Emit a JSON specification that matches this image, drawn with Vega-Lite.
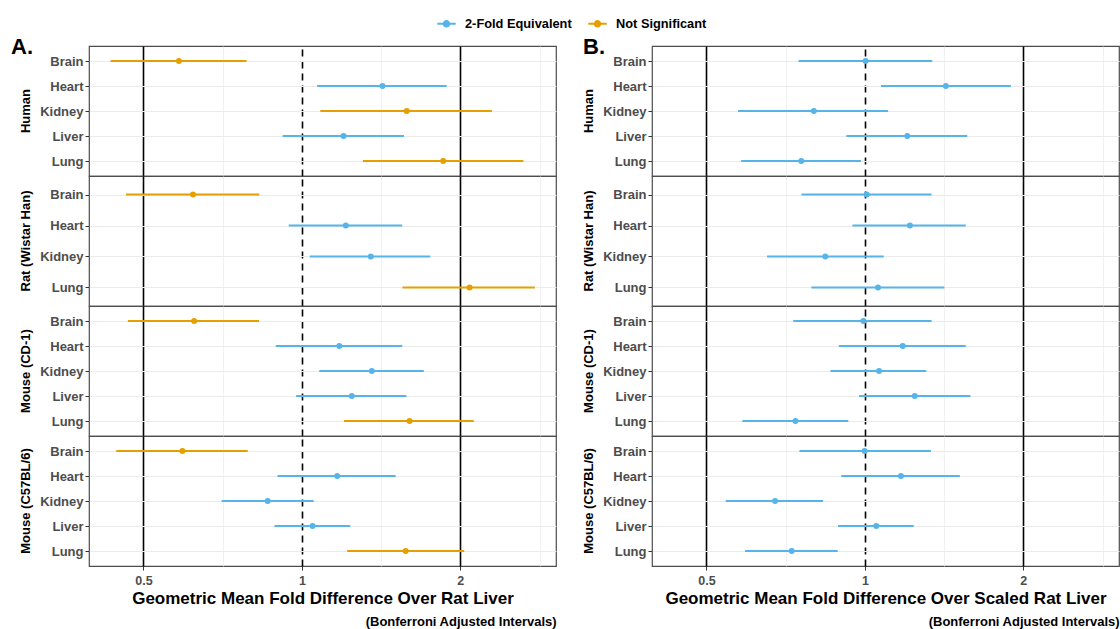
{
  "$schema": "https://vega.github.io/schema/vega-lite/v6.json",
  "padding": {"left": 10, "top": 13, "right": 0, "bottom": 0},
  "background": "white",
  "config": {
    "font": "Liberation Sans",
    "view": {"stroke": "#4d4d4d", "strokeWidth": 1.2},
    "title": {"fontSize": 22, "fontWeight": "bold", "color": "black", "anchor": "start"},
    "header": {"labelFont": "Liberation Sans", "labelFontSize": 13, "labelFontWeight": "bold", "labelColor": "black", "labelAngle": -90, "labelPadding": 50},
    "legend": {"padding": 0}
  },
  "datasets": {
    "A": [
      {"species": "Human", "tissue": "Brain", "est": 0.584, "lo": 0.433, "hi": 0.785, "sig": "Not Significant"},
      {"species": "Human", "tissue": "Heart", "est": 1.423, "lo": 1.069, "hi": 1.884, "sig": "2-Fold Equivalent"},
      {"species": "Human", "tissue": "Kidney", "est": 1.582, "lo": 1.084, "hi": 2.297, "sig": "Not Significant"},
      {"species": "Human", "tissue": "Liver", "est": 1.200, "lo": 0.919, "hi": 1.563, "sig": "2-Fold Equivalent"},
      {"species": "Human", "tissue": "Lung", "est": 1.856, "lo": 1.306, "hi": 2.636, "sig": "Not Significant"},
      {"species": "Rat (Wistar Han)", "tissue": "Brain", "est": 0.621, "lo": 0.463, "hi": 0.830, "sig": "Not Significant"},
      {"species": "Rat (Wistar Han)", "tissue": "Heart", "est": 1.212, "lo": 0.944, "hi": 1.551, "sig": "2-Fold Equivalent"},
      {"species": "Rat (Wistar Han)", "tissue": "Kidney", "est": 1.352, "lo": 1.035, "hi": 1.754, "sig": "2-Fold Equivalent"},
      {"species": "Rat (Wistar Han)", "tissue": "Lung", "est": 2.083, "lo": 1.553, "hi": 2.771, "sig": "Not Significant"},
      {"species": "Mouse (CD-1)", "tissue": "Brain", "est": 0.624, "lo": 0.467, "hi": 0.829, "sig": "Not Significant"},
      {"species": "Mouse (CD-1)", "tissue": "Heart", "est": 1.178, "lo": 0.892, "hi": 1.551, "sig": "2-Fold Equivalent"},
      {"species": "Mouse (CD-1)", "tissue": "Kidney", "est": 1.358, "lo": 1.079, "hi": 1.705, "sig": "2-Fold Equivalent"},
      {"species": "Mouse (CD-1)", "tissue": "Liver", "est": 1.244, "lo": 0.975, "hi": 1.580, "sig": "2-Fold Equivalent"},
      {"species": "Mouse (CD-1)", "tissue": "Lung", "est": 1.602, "lo": 1.202, "hi": 2.122, "sig": "Not Significant"},
      {"species": "Mouse (C57BL/6)", "tissue": "Brain", "est": 0.593, "lo": 0.444, "hi": 0.789, "sig": "Not Significant"},
      {"species": "Mouse (C57BL/6)", "tissue": "Heart", "est": 1.167, "lo": 0.899, "hi": 1.507, "sig": "2-Fold Equivalent"},
      {"species": "Mouse (C57BL/6)", "tissue": "Kidney", "est": 0.861, "lo": 0.704, "hi": 1.053, "sig": "2-Fold Equivalent"},
      {"species": "Mouse (C57BL/6)", "tissue": "Liver", "est": 1.048, "lo": 0.887, "hi": 1.236, "sig": "2-Fold Equivalent"},
      {"species": "Mouse (C57BL/6)", "tissue": "Lung", "est": 1.575, "lo": 1.219, "hi": 2.035, "sig": "Not Significant"}
    ],
    "B": [
      {"species": "Human", "tissue": "Brain", "est": 1.003, "lo": 0.748, "hi": 1.343, "sig": "2-Fold Equivalent"},
      {"species": "Human", "tissue": "Heart", "est": 1.425, "lo": 1.073, "hi": 1.894, "sig": "2-Fold Equivalent"},
      {"species": "Human", "tissue": "Kidney", "est": 0.800, "lo": 0.574, "hi": 1.107, "sig": "2-Fold Equivalent"},
      {"species": "Human", "tissue": "Liver", "est": 1.204, "lo": 0.922, "hi": 1.565, "sig": "2-Fold Equivalent"},
      {"species": "Human", "tissue": "Lung", "est": 0.757, "lo": 0.582, "hi": 0.983, "sig": "2-Fold Equivalent"},
      {"species": "Rat (Wistar Han)", "tissue": "Brain", "est": 1.008, "lo": 0.758, "hi": 1.339, "sig": "2-Fold Equivalent"},
      {"species": "Rat (Wistar Han)", "tissue": "Heart", "est": 1.218, "lo": 0.947, "hi": 1.555, "sig": "2-Fold Equivalent"},
      {"species": "Rat (Wistar Han)", "tissue": "Kidney", "est": 0.841, "lo": 0.652, "hi": 1.086, "sig": "2-Fold Equivalent"},
      {"species": "Rat (Wistar Han)", "tissue": "Lung", "est": 1.059, "lo": 0.791, "hi": 1.416, "sig": "2-Fold Equivalent"},
      {"species": "Mouse (CD-1)", "tissue": "Brain", "est": 0.994, "lo": 0.731, "hi": 1.339, "sig": "2-Fold Equivalent"},
      {"species": "Mouse (CD-1)", "tissue": "Heart", "est": 1.180, "lo": 0.892, "hi": 1.555, "sig": "2-Fold Equivalent"},
      {"species": "Mouse (CD-1)", "tissue": "Kidney", "est": 1.064, "lo": 0.860, "hi": 1.308, "sig": "2-Fold Equivalent"},
      {"species": "Mouse (CD-1)", "tissue": "Liver", "est": 1.244, "lo": 0.975, "hi": 1.587, "sig": "2-Fold Equivalent"},
      {"species": "Mouse (CD-1)", "tissue": "Lung", "est": 0.738, "lo": 0.585, "hi": 0.930, "sig": "2-Fold Equivalent"},
      {"species": "Mouse (C57BL/6)", "tissue": "Brain", "est": 0.999, "lo": 0.751, "hi": 1.335, "sig": "2-Fold Equivalent"},
      {"species": "Mouse (C57BL/6)", "tissue": "Heart", "est": 1.171, "lo": 0.902, "hi": 1.515, "sig": "2-Fold Equivalent"},
      {"species": "Mouse (C57BL/6)", "tissue": "Kidney", "est": 0.675, "lo": 0.544, "hi": 0.833, "sig": "2-Fold Equivalent"},
      {"species": "Mouse (C57BL/6)", "tissue": "Liver", "est": 1.051, "lo": 0.889, "hi": 1.238, "sig": "2-Fold Equivalent"},
      {"species": "Mouse (C57BL/6)", "tissue": "Lung", "est": 0.726, "lo": 0.592, "hi": 0.888, "sig": "2-Fold Equivalent"}
    ]
  },
  "spacing": 25,
  "hconcat": [
    {
      "title": {"text": "A.", "offset": -14, "dx": -9},
      "vconcat": [
        {
          "data": {"name": "A"},
          "title": {"text": "(Bonferroni Adjusted Intervals)", "orient": "bottom", "anchor": "end", "fontSize": 13, "fontWeight": "bold", "color": "black", "offset": 9},
          "facet": {"row": {"field": "species", "type": "nominal", "sort": ["Human", "Rat (Wistar Han)", "Mouse (CD-1)", "Mouse (C57BL/6)"], "header": {"title": null}}},
          "spacing": {"row": 0},
          "bounds": "flush",
          "resolve": {"scale": {"y": "independent"}},
          "spec": {
            "width": 467,
            "height": 130,
            "encoding": {
              "y": {"field": "tissue", "type": "nominal", "sort": ["Brain", "Heart", "Kidney", "Liver", "Lung"], "scale": {"type": "point", "padding": 0.6},
                "axis": {"title": null, "grid": true, "gridColor": "#EBEBEB", "gridWidth": 1, "domain": false, "tickColor": "#333333", "tickSize": 4, "labelFontSize": 13, "labelFontWeight": "bold", "labelColor": "#4D4D4D", "labelPadding": 2}}
            },
            "layer": [
              {
                "mark": {"type": "rule", "strokeWidth": 2},
                "encoding": {
                  "x": {"field": "lo", "type": "quantitative", "scale": {"type": "log", "base": 2, "domain": [0.394, 3.04], "nice": false},
                    "axis": {"title": "Geometric Mean Fold Difference Over Rat Liver", "values": [0.5, 0.7071, 1, 1.4142, 2, 2.8284],
                      "labelExpr": "datum.value == 0.5 ? '0.5' : datum.value == 1 ? '1' : datum.value == 2 ? '2' : ''",
                      "grid": true,
                      "gridColor": {"condition": {"test": "datum.value == 0.5 || datum.value == 1 || datum.value == 2", "value": "#000000"}, "value": "#EBEBEB"},
                      "gridWidth": {"condition": {"test": "datum.value == 0.5 || datum.value == 1 || datum.value == 2", "value": 1.6}, "value": 0.7},
                      "gridDash": {"condition": {"test": "datum.value == 1", "value": [7, 5]}, "value": []},
                      "tickColor": {"condition": {"test": "datum.value == 0.5 || datum.value == 1 || datum.value == 2", "value": "#333333"}, "value": "transparent"},
                      "tickSize": 4, "domain": false,
                      "labelFontSize": 12.5, "labelFontWeight": "bold", "labelColor": "#4D4D4D", "labelPadding": 4,
                      "titleFontSize": 17, "titleFontWeight": "bold", "titleColor": "black", "titlePadding": 4}},
                  "x2": {"field": "hi"},
                  "color": {"field": "sig", "type": "nominal", "scale": {"domain": ["2-Fold Equivalent", "Not Significant"], "range": ["#56B4E9", "#E69F00"]},
                    "legend": {"title": null, "orient": "none", "direction": "horizontal", "legendX": 347, "legendY": -33,
                      "labelFontSize": 12.8, "labelFontWeight": "bold", "labelColor": "black", "labelOffset": 8, "columnPadding": 12,
                      "symbolType": "M-1,0L1,0M-0.3,0A0.3,0.3,0,1,1,0.3,0A0.3,0.3,0,1,1,-0.3,0Z", "symbolSize": 340, "symbolStrokeWidth": 2,
                      "encode": {"symbols": {"update": {"fill": {"scale": "color", "field": "value"}, "stroke": {"scale": "color", "field": "value"}}}}}}
                }
              },
              {
                "mark": {"type": "point", "filled": true, "size": 36, "opacity": 1},
                "encoding": {
                  "x": {"field": "est", "type": "quantitative"},
                  "color": {"field": "sig", "type": "nominal"}
                }
              }
            ]
          }
        }
      ]
    },
    {
      "title": {"text": "B.", "offset": -14},
      "vconcat": [
        {
          "data": {"name": "B"},
          "title": {"text": "(Bonferroni Adjusted Intervals)", "orient": "bottom", "anchor": "end", "fontSize": 13, "fontWeight": "bold", "color": "black", "offset": 9},
          "facet": {"row": {"field": "species", "type": "nominal", "sort": ["Human", "Rat (Wistar Han)", "Mouse (CD-1)", "Mouse (C57BL/6)"], "header": {"title": null}}},
          "spacing": {"row": 0},
          "bounds": "flush",
          "resolve": {"scale": {"y": "independent"}},
          "spec": {
            "width": 467,
            "height": 130,
            "encoding": {
              "y": {"field": "tissue", "type": "nominal", "sort": ["Brain", "Heart", "Kidney", "Liver", "Lung"], "scale": {"type": "point", "padding": 0.6},
                "axis": {"title": null, "grid": true, "gridColor": "#EBEBEB", "gridWidth": 1, "domain": false, "tickColor": "#333333", "tickSize": 4, "labelFontSize": 13, "labelFontWeight": "bold", "labelColor": "#4D4D4D", "labelPadding": 2}}
            },
            "layer": [
              {
                "mark": {"type": "rule", "strokeWidth": 2},
                "encoding": {
                  "x": {"field": "lo", "type": "quantitative", "scale": {"type": "log", "base": 2, "domain": [0.394, 3.04], "nice": false},
                    "axis": {"title": "Geometric Mean Fold Difference Over Scaled Rat Liver", "values": [0.5, 0.7071, 1, 1.4142, 2, 2.8284],
                      "labelExpr": "datum.value == 0.5 ? '0.5' : datum.value == 1 ? '1' : datum.value == 2 ? '2' : ''",
                      "grid": true,
                      "gridColor": {"condition": {"test": "datum.value == 0.5 || datum.value == 1 || datum.value == 2", "value": "#000000"}, "value": "#EBEBEB"},
                      "gridWidth": {"condition": {"test": "datum.value == 0.5 || datum.value == 1 || datum.value == 2", "value": 1.6}, "value": 0.7},
                      "gridDash": {"condition": {"test": "datum.value == 1", "value": [7, 5]}, "value": []},
                      "tickColor": {"condition": {"test": "datum.value == 0.5 || datum.value == 1 || datum.value == 2", "value": "#333333"}, "value": "transparent"},
                      "tickSize": 4, "domain": false,
                      "labelFontSize": 12.5, "labelFontWeight": "bold", "labelColor": "#4D4D4D", "labelPadding": 4,
                      "titleFontSize": 17, "titleFontWeight": "bold", "titleColor": "black", "titlePadding": 4}},
                  "x2": {"field": "hi"},
                  "color": {"field": "sig", "type": "nominal", "scale": {"domain": ["2-Fold Equivalent", "Not Significant"], "range": ["#56B4E9", "#E69F00"]},
                    "legend": {"title": null, "orient": "none", "direction": "horizontal", "legendX": 347, "legendY": -33,
                      "labelFontSize": 12.8, "labelFontWeight": "bold", "labelColor": "black", "labelOffset": 8, "columnPadding": 12,
                      "symbolType": "M-1,0L1,0M-0.3,0A0.3,0.3,0,1,1,0.3,0A0.3,0.3,0,1,1,-0.3,0Z", "symbolSize": 340, "symbolStrokeWidth": 2,
                      "encode": {"symbols": {"update": {"fill": {"scale": "color", "field": "value"}, "stroke": {"scale": "color", "field": "value"}}}}}}
                }
              },
              {
                "mark": {"type": "point", "filled": true, "size": 36, "opacity": 1},
                "encoding": {
                  "x": {"field": "est", "type": "quantitative"},
                  "color": {"field": "sig", "type": "nominal"}
                }
              }
            ]
          }
        }
      ]
    }
  ]
}
